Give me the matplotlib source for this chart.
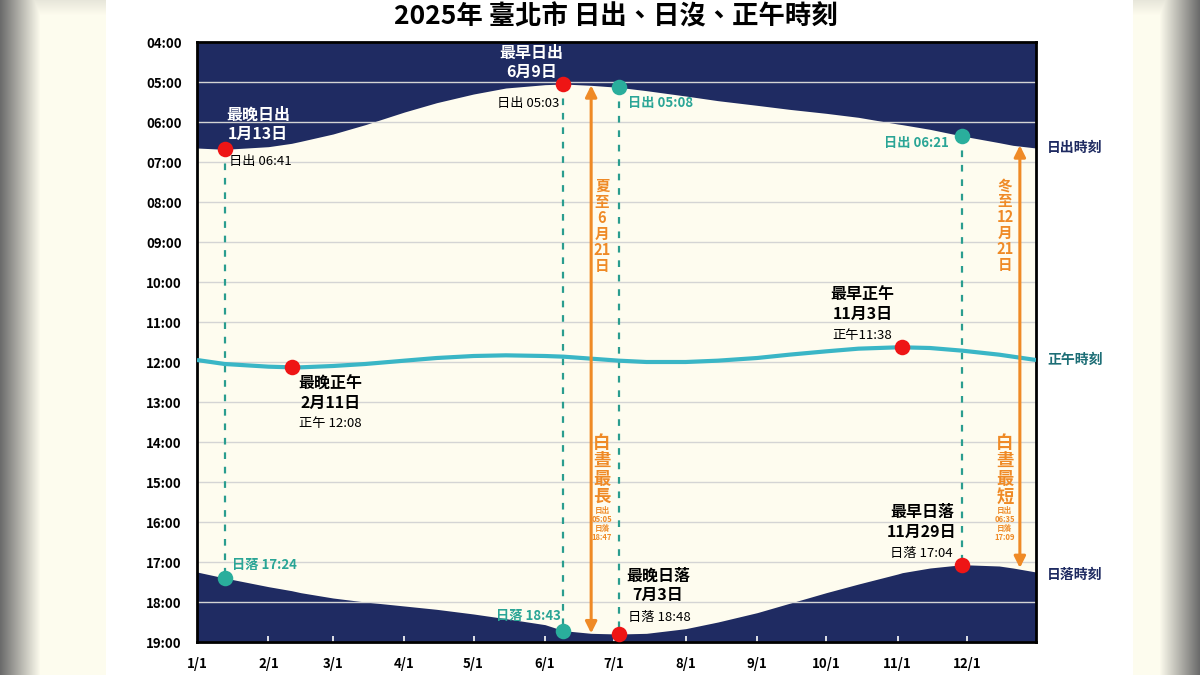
import numpy as np
import matplotlib
matplotlib.use('Agg')
import matplotlib.pyplot as plt
import matplotlib.transforms as mtransforms

plt.rcParams['font.family'] = ['Noto Sans CJK TC', 'DejaVu Sans']

# 資料 (2025 臺北)
dates = ['01-01', '01-13', '02-01', '02-11', '02-15', '03-01', '03-15', '04-01', '04-15',
         '05-01', '05-15', '06-01', '06-09', '06-21', '07-03', '07-15', '08-01', '08-15',
         '09-01', '09-15', '10-01', '10-15', '11-01', '11-03', '11-15', '11-29', '12-15',
         '12-21', '12-31']
sunrise = ['06:39', '06:41', '06:37', '06:32', '06:29', '06:18', '06:04', '05:45', '05:31',
           '05:18', '05:09', '05:04', '05:03', '05:05', '05:08', '05:13', '05:21', '05:28',
           '05:35', '05:41', '05:47', '05:53', '06:03', '06:04', '06:11', '06:21', '06:31',
           '06:35', '06:39']
sunset = ['17:15', '17:24', '17:37', '17:43', '17:46', '17:54', '18:00', '18:06', '18:11',
          '18:18', '18:25', '18:34', '18:43', '18:47', '18:48', '18:47', '18:40', '18:30',
          '18:16', '18:02', '17:46', '17:33', '17:18', '17:16', '17:09', '17:04', '17:06',
          '17:09', '17:15']
noon = ['11:57', '12:03', '12:07', '12:08', '12:08', '12:06', '12:03', '11:58', '11:54',
        '11:51', '11:50', '11:51', '11:52', '11:55', '11:58', '12:00', '12:00', '11:58',
        '11:54', '11:49', '11:44', '11:40', '11:38', '11:38', '11:39', '11:43', '11:49',
        '11:52', '11:57']

month_ticks = ['01-01', '02-01', '03-01', '04-01', '05-01', '06-01', '07-01', '08-01',
               '09-01', '10-01', '11-01', '12-01']
month_labels = ['1/1', '2/1', '3/1', '4/1', '5/1', '6/1', '7/1', '8/1', '9/1', '10/1', '11/1', '12/1']
hour_ticks = list(range(4, 20))

NAVY = '#1f2b62'
CREAM = '#fefcef'
TEAL = '#2aae9c'
TEAL_TXT = '#2aa596'
NOON_C = '#3ab6c6'
RED = '#ee1515'
ORANGE = '#ef8a26'


def doy(d):
    return (np.datetime64('2025-' + d) - np.datetime64('2025-01-01')).astype(int)


def hrs(t):
    h, m = t.split(':')
    return int(h) + int(m) / 60


x = np.array([doy(d) for d in dates])
rise = np.array([hrs(t) for t in sunrise])
sset = np.array([hrs(t) for t in sunset])
nn = np.array([hrs(t) for t in noon])

fig = plt.figure(figsize=(12, 6.75), dpi=100)

# 背景
bg = fig.add_axes([0, 0, 1, 1])
H, W = 675, 1200
img = np.ones((H, W, 3))
img[:, :] = [0.996, 0.99, 0.935]
img[:, 106:1133] = 1.0
cols = np.arange(W)
left = np.clip(cols / 40.0, 0, 1)
right = np.clip((W - 1 - cols) / 40.0, 0, 1)
shade = np.minimum(left, right)
rows = np.clip(np.arange(H) / 15.0, 0, 1)
for i in range(H):
    f = np.minimum(shade, 0.85 + 0.15 * rows[i])
    f = np.where((cols >= 106) & (cols < 1133), 1.0, f)
    img[i] = img[i] * f[:, None] + 0.42 * (1 - f[:, None])
bg.imshow(img, aspect='auto', extent=[0, 1, 0, 1])
bg.axis('off')

ax = fig.add_axes([197 / 1200, 1 - 642 / 675, 839 / 1200, 600 / 675])
ax.set_facecolor(CREAM)
ax.fill_between(x, 4, rise, color=NAVY, lw=0, zorder=1)
ax.fill_between(x, sset, 19, color=NAVY, lw=0, zorder=1)
for h in hour_ticks:
    ax.axhline(h, color='#d4d4d4', lw=1, zorder=1.5)
ax.plot(x, nn, color=NOON_C, lw=3, zorder=3, solid_capstyle='butt')

ax.set_xlim(0, 364)
ax.set_ylim(19, 4)
ax.set_yticks(hour_ticks)
ax.set_yticklabels([f'{h:02d}:00' for h in hour_ticks], fontsize=9.5, fontweight='bold')
ax.set_xticks([doy(d) for d in month_ticks])
ax.set_xticklabels(month_labels, fontsize=9.5, fontweight='bold')
ax.tick_params(axis='x', direction='in', color='white', length=4, width=1.2, pad=11)
ax.tick_params(axis='y', length=0, pad=11)
for s in ax.spines.values():
    s.set_linewidth(2)
    s.set_color('black')


def dashed(d):
    i = dates.index(d)
    ax.plot([x[i], x[i]], [rise[i], sset[i]], color='#2a9d8f', lw=1.6,
            ls=(0, (3, 3.5)), zorder=2)


for d in ['01-13', '06-09', '07-03', '11-29']:
    dashed(d)


def dot(d, series, color):
    i = dates.index(d)
    ax.scatter(x[i], series[i], s=125, color=color, zorder=5, lw=0)


dot('01-13', rise, RED)
dot('01-13', sset, TEAL)
dot('06-09', rise, RED)
dot('06-09', sset, TEAL)
dot('07-03', rise, TEAL)
dot('07-03', sset, RED)
dot('11-29', rise, TEAL)
dot('11-29', sset, RED)
dot('02-11', nn, RED)
dot('11-03', nn, RED)

# 標註
big = dict(fontsize=11.5, fontweight='bold', ha='center', va='center', linespacing=1.25, zorder=6)
ax.text(26.5, 6.05, '最晚日出\n1月13日', color='white', **big)
ax.text(145, 4.52, '最早日出\n6月9日', color='white', **big)
ax.text(200, 17.58, '最晚日落\n7月3日', color='black', **big)
ax.text(314.5, 16.0, '最早日落\n11月29日', color='black', **big)
ax.text(57.8, 12.78, '最晚正午\n2月11日', color='black', **big)
ax.text(288.7, 10.55, '最早正午\n11月3日', color='black', **big)

small = dict(fontsize=9.5, va='center', zorder=6)
ax.text(14, 7.0, '日出 06:41', color='black', ha='left', **small)
ax.text(157, 5.53, '日出 05:03', color='black', ha='right', **small)
ax.text(187, 18.4, '日落 18:48', color='black', ha='left', **small)
ax.text(328, 16.78, '日落 17:04', color='black', ha='right', **small)
ax.text(57.8, 13.53, '正午 12:08', color='black', ha='center', **small)
ax.text(288.7, 11.33, '正午11:38', color='black', ha='center', **small)

ax.text(15.2, 17.08, '日落 17:24', color=TEAL_TXT, ha='left', fontweight='bold', **small)
ax.text(187, 5.53, '日出 05:08', color=TEAL_TXT, ha='left', fontweight='bold', **small)
ax.text(158, 18.35, '日落 18:43', color=TEAL_TXT, ha='right', fontweight='bold', **small)
ax.text(326, 6.53, '日出 06:21', color=TEAL_TXT, ha='right', fontweight='bold', **small)

# 夏至 / 冬至 箭頭
arrow = dict(arrowstyle='<|-|>', color=ORANGE, lw=2.2, mutation_scale=17, shrinkA=0, shrinkB=0)
ax.annotate('', xy=(171, hrs('05:05')), xytext=(171, hrs('18:47')), arrowprops=arrow, zorder=4)
ax.annotate('', xy=(357, hrs('06:35')), xytext=(357, hrs('17:09')), arrowprops=arrow, zorder=4)

otxt = dict(color=ORANGE, ha='center', va='center', fontweight='bold', zorder=6)
ax.text(175.7, 8.6, '夏\n至\n6\n月\n21\n日', fontsize=10.5, linespacing=1.0, **otxt)
ax.text(175.7, 14.7, '白\n晝\n最\n長', fontsize=12.5, linespacing=1.0, **otxt)
ax.text(175.7, 16.05, '日出\n05:05\n日落\n18:47', fontsize=5.5, linespacing=1.0, **otxt)
ax.text(350.5, 8.58, '冬\n至\n12\n月\n21\n日', fontsize=10.5, linespacing=1.0, **otxt)
ax.text(350.5, 14.7, '白\n晝\n最\n短', fontsize=12.5, linespacing=1.0, **otxt)
ax.text(350.5, 16.05, '日出\n06:35\n日落\n17:09', fontsize=5.5, linespacing=1.0, **otxt)

# 右側標籤
tr = mtransforms.blended_transform_factory(ax.transAxes, ax.transData)
ax.text(1.013, 6.65, '日出時刻', transform=tr, color=NAVY, fontsize=10, fontweight='bold', va='center')
ax.text(1.013, 11.95, '正午時刻', transform=tr, color='#1d6e76', fontsize=10, fontweight='bold', va='center')
ax.text(1.013, 17.33, '日落時刻', transform=tr, color=NAVY, fontsize=10, fontweight='bold', va='center')

fig.text(616 / 1200, 1 - 17 / 675, '2025年 臺北市 日出、日沒、正午時刻', ha='center', va='center',
         fontsize=19, fontweight='bold')

fig.savefig('out.png', dpi=100)
